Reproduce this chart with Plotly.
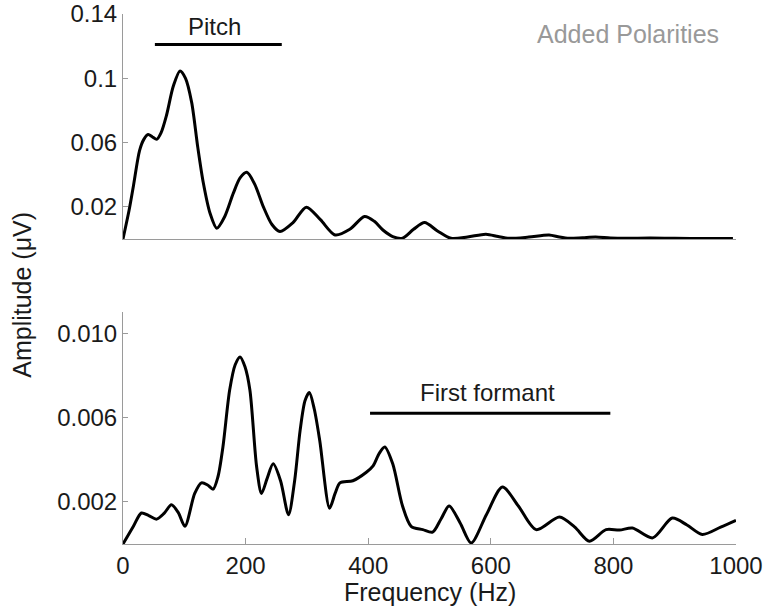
import plotly.graph_objects as go
from plotly.subplots import make_subplots

# Added polarities spectrum
added_freq = [0, 10, 17, 27, 34, 41, 48, 55, 62, 71, 82, 93, 102, 112, 122, 131, 142, 153, 166, 180, 191, 202,
              215, 229, 243, 256, 277, 299, 322, 346, 370, 394, 410, 424, 440, 456, 474, 492, 513, 535,
              562, 592, 612, 630, 662, 695, 712, 728, 750, 771, 795, 820, 860, 900, 950, 995]
added_amp = [0, 0.018, 0.033, 0.055, 0.062, 0.065, 0.0635, 0.062, 0.066, 0.077, 0.095, 0.1046, 0.100, 0.085, 0.057,
             0.035, 0.016, 0.0067, 0.014, 0.0285, 0.038, 0.0415, 0.034, 0.020, 0.009, 0.0046, 0.010, 0.0198, 0.012,
             0.0025, 0.006, 0.014, 0.011, 0.0056, 0.0015, 0.0005, 0.006, 0.0102, 0.005, 0.0004,
             0.0012, 0.003, 0.0015, 0.0004, 0.0012, 0.0025, 0.0012, 0.0004, 0.0008, 0.0012, 0.0006, 0.0004, 0.0006, 0.0004, 0.0003, 0.0003]

# Subtracted polarities spectrum
sub_freq = [0, 17, 30, 42, 55, 67, 79, 90, 101, 117, 128, 138, 147, 155, 163, 174, 183, 191, 199, 207, 218, 226,
            235, 245, 257, 270, 280, 289, 297, 304, 312, 321, 337, 346, 354, 375, 397, 408, 418, 427, 440,
            456, 470, 489, 505, 519, 532, 550, 568, 593, 619, 645, 674, 712, 737, 761, 788, 810, 831, 864, 896,
            920, 945, 975, 1000]
sub_amp = [0, 0.00084, 0.00147, 0.00135, 0.00118, 0.00145, 0.00186, 0.0015, 0.00084, 0.0024, 0.0029, 0.0028, 0.0026,
           0.0032, 0.0046, 0.0073, 0.0085, 0.00887, 0.0084, 0.0073, 0.00366, 0.0024,
           0.0031, 0.0038, 0.0030, 0.00139, 0.0030, 0.0054, 0.0068, 0.00718, 0.0064, 0.0049, 0.0017, 0.0024, 0.0029,
           0.0030, 0.0034, 0.0037, 0.0043, 0.0046, 0.0038,
           0.0018, 0.00084, 0.00068, 0.00056, 0.0012, 0.0018, 0.0010, 0.00005, 0.0014, 0.0027, 0.0018, 0.00068,
           0.00128, 0.0008, 0.00013, 0.00068, 0.00066, 0.00076, 0.00029, 0.00123, 0.0009, 0.00045, 0.0008, 0.00112]

pitch_range = [52, 259]
pitch_level = 0.121
formant_range = [403, 795]
formant_level = 0.0062

x_ticks = [0, 200, 400, 600, 800, 1000]
top_ticks = [0.02, 0.06, 0.1, 0.14]
top_ticklabels = ["0.02", "0.06", "0.1", "0.14"]
bot_ticks = [0.002, 0.006, 0.010]
bot_ticklabels = ["0.002", "0.006", "0.010"]

FONT = "Liberation Sans, Arial, sans-serif"
TXT = "#1a1a1a"
AX = "#9a9a9a"

fig = make_subplots(rows=2, cols=1, shared_xaxes=False, vertical_spacing=0.0)

fig.add_trace(go.Scatter(x=added_freq, y=added_amp, mode="lines",
                         line=dict(color="black", width=3, shape="spline", smoothing=0.8),
                         showlegend=False), row=1, col=1)
fig.add_trace(go.Scatter(x=sub_freq, y=sub_amp, mode="lines",
                         line=dict(color="black", width=3, shape="spline", smoothing=0.8),
                         showlegend=False), row=2, col=1)

# Range bars
fig.add_trace(go.Scatter(x=pitch_range, y=[pitch_level, pitch_level], mode="lines",
                         line=dict(color="black", width=3), showlegend=False, cliponaxis=False), row=1, col=1)
fig.add_trace(go.Scatter(x=formant_range, y=[formant_level, formant_level], mode="lines",
                         line=dict(color="black", width=3), showlegend=False, cliponaxis=False), row=2, col=1)

common_x = dict(range=[0, 1000], showgrid=False, zeroline=False, showline=True, linecolor=AX, linewidth=1,
                automargin=False, ticklabeloverflow="allow", tickfont=dict(family=FONT, size=24, color=TXT))
fig.update_xaxes(**common_x, showticklabels=False, ticks="", domain=[0, 1], row=1, col=1)
fig.update_xaxes(**common_x, tickvals=x_ticks, ticks="inside", ticklen=6, tickcolor=AX, row=2, col=1)

common_y = dict(showgrid=False, zeroline=False, showline=True, linecolor=AX, linewidth=1,
                ticks="inside", ticklen=5, tickcolor=AX, automargin=False, ticklabeloverflow="allow",
                tickfont=dict(family=FONT, size=24, color=TXT))
fig.update_yaxes(**common_y, range=[0, 0.14], tickvals=top_ticks, ticktext=top_ticklabels,
                 domain=[0.5755, 1.0], row=1, col=1)
fig.update_yaxes(**common_y, range=[0, 0.011], tickvals=bot_ticks, ticktext=bot_ticklabels,
                 domain=[0.0, 0.4377], row=2, col=1)

fig.add_annotation(text="Pitch", x=150, y=0.1325, xref="x", yref="y", showarrow=False,
                   xanchor="center", yanchor="middle", font=dict(family=FONT, size=24, color=TXT))
fig.add_annotation(text="First formant", x=595, y=0.0072, xref="x2", yref="y2", showarrow=False,
                   xanchor="center", yanchor="middle", font=dict(family=FONT, size=24, color=TXT))
fig.add_annotation(text="Added Polarities", x=975, y=0.1275, xref="x", yref="y", showarrow=False,
                   xanchor="right", yanchor="middle", font=dict(family=FONT, size=25, color="#999999"))
fig.add_annotation(text="Subtracted Polarities", x=1024, y=0.01052, xref="x2", yref="y2", showarrow=False,
                   xanchor="right", yanchor="middle", font=dict(family=FONT, size=25, color="#999999"))
fig.add_annotation(text="Amplitude (μV)", x=-0.165, y=0.47, xref="paper", yref="paper", showarrow=False,
                   xanchor="center", yanchor="middle", textangle=-90,
                   font=dict(family=FONT, size=25, color=TXT))
fig.add_annotation(text="Frequency (Hz)", x=0.5, y=-0.091, xref="paper", yref="paper", showarrow=False,
                   xanchor="center", yanchor="middle", font=dict(family=FONT, size=25, color=TXT))

fig.update_layout(width=766, height=610, margin=dict(l=123, r=30, t=14, b=66, autoexpand=False),
                  plot_bgcolor="white", paper_bgcolor="white")

# remove the default 8px page margin so the figure fills the 766x610 window exactly
fig.write_html("out.html", config={"displayModeBar": False},
               post_script="document.body.style.margin='0px';document.body.style.overflow='hidden';")
